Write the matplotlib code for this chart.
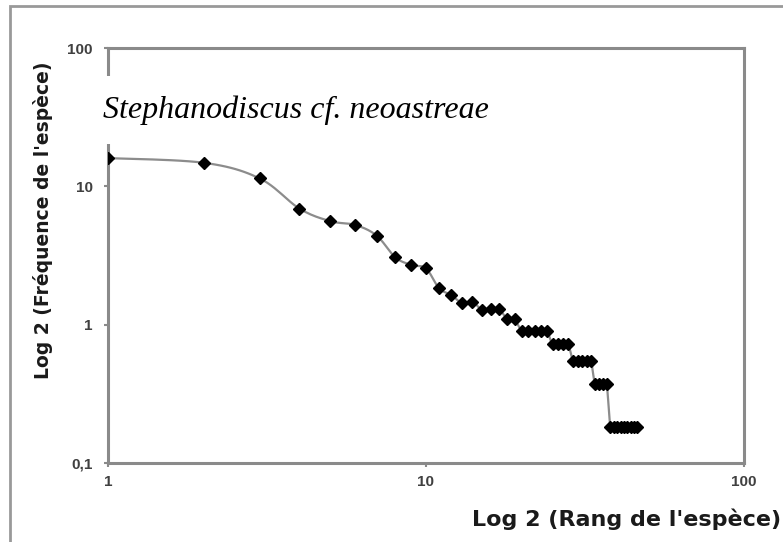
import numpy as np
import matplotlib
matplotlib.use("Agg")
import matplotlib.pyplot as plt
from matplotlib.patches import Rectangle

# rank-frequency values for the species
rang = list(range(1, 47))
frequence = [16.0, 14.8, 11.4, 6.9, 5.6, 5.25, 4.4, 3.07, 2.7, 2.55,
             1.83, 1.64, 1.43, 1.47, 1.27, 1.29, 1.29, 1.10, 1.09,
             0.90, 0.90, 0.90, 0.90, 0.90,
             0.72, 0.72, 0.72, 0.72,
             0.55, 0.55, 0.55, 0.55, 0.55,
             0.37, 0.37, 0.37, 0.37,
             0.183, 0.183, 0.183, 0.183, 0.183, 0.183, 0.183, 0.183, 0.183]

x_ticks = [1, 10, 100]
x_labels = ["1", "10", "100"]
y_ticks = [0.1, 1, 10, 100]
y_labels = ["0,1", "1", "10", "100"]


def smooth_path(x, y, n=12):
    # Catmull-Rom through the points in log space (Excel-like smoothed line)
    lx, ly = np.log10(x), np.log10(y)
    px = np.concatenate([[lx[0]], lx, [lx[-1]]])
    py = np.concatenate([[ly[0]], ly, [ly[-1]]])
    ox, oy = [], []
    t = np.linspace(0, 1, n, endpoint=False)
    for i in range(1, len(px) - 2):
        for arr, out in ((px, ox), (py, oy)):
            p0, p1, p2, p3 = arr[i - 1], arr[i], arr[i + 1], arr[i + 2]
            out.extend(0.5 * ((2 * p1) + (-p0 + p2) * t +
                              (2 * p0 - 5 * p1 + 4 * p2 - p3) * t ** 2 +
                              (-p0 + 3 * p1 - 3 * p2 + p3) * t ** 3))
    ox.append(lx[-1])
    oy.append(ly[-1])
    return 10 ** np.array(ox), 10 ** np.array(oy)


fig = plt.figure(figsize=(7.83, 5.42), dpi=100)
ax = fig.add_axes([108 / 783, 1 - 463 / 542, (744 - 108) / 783, (463 - 48) / 542])

sx, sy = smooth_path(np.array(rang, float), np.array(frequence, float))
ax.plot(sx, sy, color="#8c8c8c", lw=1.6, zorder=2)
ax.plot(rang, frequence, ls="none", marker="D", ms=6.5, color="black", zorder=3)

ax.set_xscale("log")
ax.set_yscale("log")
ax.set_xlim(1, 100)
ax.set_ylim(0.1, 100)
ax.set_xticks(x_ticks)
ax.set_xticklabels(x_labels)
ax.set_yticks(y_ticks)
ax.set_yticklabels(y_labels)
ax.minorticks_off()
ax.tick_params(colors="#8a8a8a", labelcolor="#404040", length=3, width=1.5,
               labelsize=11)
ax.tick_params(axis="y", pad=8)
ax.tick_params(axis="x", pad=6)
for lab in ax.get_xticklabels() + ax.get_yticklabels():
    lab.set_fontfamily("Liberation Sans")
    lab.set_fontweight("bold")
for sp in ax.spines.values():
    sp.set_color("#8a8a8a")
    sp.set_linewidth(2.2)

fig.text(0.997, 1 - 519 / 542, "Log 2 (Rang de l'espèce)", ha="right", va="center",
         fontsize=16, fontweight="bold", family="DejaVu Sans", color="#1a1a1a")
fig.text(43 / 783, 1 - 220 / 542, "Log 2 (Fréquence de l'espèce)", rotation=90,
         ha="center", va="center", fontsize=13.5, fontweight="bold",
         family="DejaVu Sans", color="#1a1a1a")

fig.text(103 / 783, 1 - 110 / 542, "Stephanodiscus cf. neoastreae", ha="left",
         va="center", fontsize=23, style="italic", family="Liberation Serif",
         color="black", zorder=10,
         bbox=dict(boxstyle="square,pad=0.6", fc="white", ec="none"))

# outer chart frame
fig.patches.append(Rectangle((10 / 783, -0.1), 1.2, 1 - 6 / 542 + 0.1,
                             transform=fig.transFigure, fill=False,
                             ec="#999999", lw=2, zorder=0))

fig.savefig("out.png", dpi=100)
